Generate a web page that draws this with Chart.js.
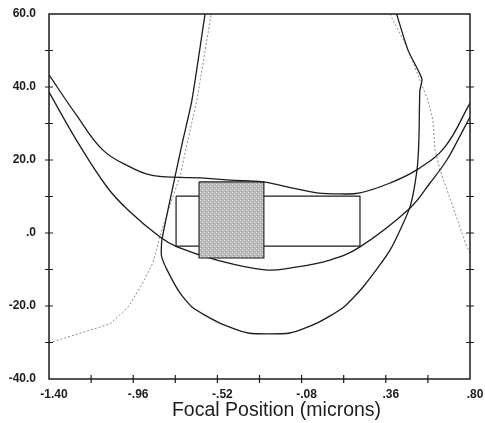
<!DOCTYPE html>
<html>
<head>
<meta charset="utf-8">
<script src="https://cdn.jsdelivr.net/npm/chart.js@4/dist/chart.umd.min.js"></script>
<style>
  html, body { margin: 0; padding: 0; background: #fff; }
  #wrap { width: 485px; height: 423px; }
</style>
</head>
<body>
<div id="wrap"><canvas id="c" width="485" height="423"></canvas></div>
<script>
// Axis ranges and the ticks that carry labels
const xRange = [-1.40, 0.80];
const yRange = [-40, 60];
const xLabelledTicks = [-1.40, -0.96, -0.52, -0.08, 0.36, 0.80];
const yLabelledTicks = [-40, -20, 0, 20, 40, 60];
const axisTitle = 'Focal Position (microns)';

// Curves as [focal position, value] pairs
const upperCurve = [
  [-1.40, 43.3], [-1.259, 32.5], [-1.118, 22.7], [-0.977, 18.1], [-0.872, 15.9],
  [-0.752, 15.3], [-0.611, 15.1], [-0.454, 14.5], [-0.282, 14.0], [-0.125, 12.3],
  [0.000, 11.0], [0.120, 10.7], [0.225, 11.0], [0.382, 13.7], [0.528, 17.5],
  [0.669, 23.6], [0.800, 35.6]
];
const lowerCurve = [
  [-1.40, 38.6], [-1.248, 24.7], [-1.097, 12.6], [-0.987, 6.3], [-0.820, -1.1],
  [-0.731, -3.8], [-0.522, -7.4], [-0.271, -10.1], [-0.141, -9.6], [0.068, -7.4],
  [0.225, -3.8], [0.486, 6.8], [0.591, 13.7], [0.679, 20.0], [0.737, 25.5],
  [0.800, 31.8]
];
const loopCurve = [
  [-0.579, 62], [-0.653, 36.4], [-0.700, 25.5], [-0.742, 15.3], [-0.810, -1.9],
  [-0.812, -6.3], [-0.783, -10.1], [-0.716, -16.4], [-0.648, -20.5], [-0.507, -24.7],
  [-0.360, -27.4], [-0.141, -27.4], [0.000, -24.7], [0.136, -20.5], [0.241, -14.8],
  [0.382, -4.7], [0.486, 7.1], [0.523, 17.3], [0.533, 25.5], [0.538, 39.0],
  [0.549, 42.2], [0.476, 50.1], [0.405, 62]
];
const traceLeft = [
  [-1.40, -30.1], [-1.081, -24.9], [-0.987, -20.3], [-0.925, -15.1], [-0.857, -8.2],
  [-0.810, 0.8], [-0.768, 7.7], [-0.716, 15.3], [-0.674, 25.5], [-0.627, 36.4],
  [-0.546, 62]
];
const traceRight = [
  [0.362, 62], [0.470, 51.0], [0.538, 41.9], [0.580, 36.4], [0.606, 31.0],
  [0.617, 22.7], [0.643, 17.3], [0.784, -3.8], [0.800, -5.5]
];

// Rectangular windows: [x from, x to] and [y from, y to]
const windowX = [-0.736, 0.225];
const windowY = [-3.6, 10.1];
const shadedX = [-0.616, -0.277];
const shadedY = [-6.85, 14.0];

const pts = arr => arr.map(([x, y]) => ({ x, y }));
const rect = (xs, ys) => [
  { x: xs[0], y: ys[1] }, { x: xs[1], y: ys[1] }, { x: xs[1], y: ys[0] },
  { x: xs[0], y: ys[0] }, { x: xs[0], y: ys[1] }
];

const canvas = document.getElementById('c');
const ctx = canvas.getContext('2d');

// Gray stipple fill
function stipple() {
  const p = document.createElement('canvas');
  p.width = 4; p.height = 4;
  const g = p.getContext('2d');
  g.fillStyle = '#b9b9b9';
  g.fillRect(0, 0, 4, 4);
  g.fillStyle = '#e4e4e4';
  g.fillRect(0, 0, 1, 1);
  g.fillRect(2, 2, 1, 1);
  g.fillStyle = '#9c9c9c';
  g.fillRect(1, 3, 1, 1);
  return ctx.createPattern(p, 'repeat');
}

const ink = '#1c1c1c';
const solid = (data, tension, order) => ({
  data: pts(data), borderColor: ink, borderWidth: 1.3, tension,
  pointRadius: 0, fill: false, clip: 0, order
});

const frame = {
  id: 'frame',
  afterDatasetsDraw(chart) {
    const { ctx, chartArea: a, scales: { x, y } } = chart;
    ctx.save();
    ctx.strokeStyle = ink;
    ctx.lineWidth = 1.5;
    ctx.strokeRect(a.left, a.top, a.right - a.left, a.bottom - a.top);
    ctx.lineWidth = 1.2;
    ctx.beginPath();
    y.ticks.forEach((t, i) => {
      if (i === 0 || i === y.ticks.length - 1) return;
      const py = y.getPixelForValue(t.value);
      ctx.moveTo(a.left - 4, py); ctx.lineTo(a.left + 4, py);
      ctx.moveTo(a.right - 4, py); ctx.lineTo(a.right + 4, py);
    });
    x.ticks.forEach((t, i) => {
      if (i === 0 || i === x.ticks.length - 1) return;
      const px = x.getPixelForValue(t.value);
      ctx.moveTo(px, a.bottom - 4); ctx.lineTo(px, a.bottom + 4);
    });
    ctx.stroke();
    ctx.font = '19.5px "Liberation Sans", Arial, sans-serif';
    ctx.fillStyle = ink;
    ctx.textAlign = 'center';
    ctx.textBaseline = 'middle';
    ctx.fillText(axisTitle, (a.left + a.right) / 2 + 17, chart.height - 12);
    ctx.restore();
  }
};

const isLabelled = (list, v) => list.some(t => Math.abs(t - v) < 1e-6);
const fmtX = v => v.toFixed(2).replace(/^(-?)0\./, '$1.');
const fmtY = v => v.toFixed(1).replace(/^(-?)0\./, '$1.');
const tickFont = { family: '"Liberation Sans", Arial, sans-serif', size: 12, weight: 'bold' };

new Chart(ctx, {
  type: 'line',
  data: {
    datasets: [
      { data: pts([[shadedX[0], shadedY[1]], [shadedX[1], shadedY[1]]]), borderWidth: 0,
        pointRadius: 0, fill: '+1', backgroundColor: stipple(), order: 1 },
      { data: pts([[shadedX[0], shadedY[0]], [shadedX[1], shadedY[0]]]), borderWidth: 0,
        pointRadius: 0, fill: false, order: 2 },
      { data: rect(shadedX, shadedY), borderColor: ink, borderWidth: 1.1, pointRadius: 0,
        fill: false, order: 0 },
      { data: rect(windowX, windowY), borderColor: ink, borderWidth: 1.2, pointRadius: 0,
        fill: false, order: 3 },
      solid(upperCurve, 0.4, 0),
      solid(lowerCurve, 0.4, 4),
      solid(loopCurve, 0.2, 4),
      { data: pts(traceLeft), borderColor: '#8a8a8a', borderWidth: 1, borderDash: [2, 2],
        pointRadius: 0, fill: false, clip: 0, order: 5 },
      { data: pts(traceRight), borderColor: '#8a8a8a', borderWidth: 1, borderDash: [2, 2],
        pointRadius: 0, fill: false, clip: 0, order: 5 }
    ]
  },
  options: {
    responsive: false,
    animation: false,
    devicePixelRatio: 1,
    layout: { padding: { top: 14, right: 15, left: 0, bottom: 0 } },
    plugins: { legend: { display: false }, tooltip: { enabled: false } },
    events: [],
    scales: {
      x: {
        type: 'linear', min: xRange[0], max: xRange[1],
        grid: { display: false, drawTicks: false },
        border: { display: false },
        afterFit: s => { s.height = 44; s.paddingLeft = 0; s.paddingRight = 0; },
        ticks: {
          stepSize: 0.22, autoSkip: false, maxRotation: 0, padding: 8, labelOffset: 5,
          color: ink, font: tickFont,
          callback: v => isLabelled(xLabelledTicks, v) ? fmtX(v) : ''
        }
      },
      y: {
        type: 'linear', min: yRange[0], max: yRange[1],
        grid: { display: false, drawTicks: false },
        border: { display: false },
        afterFit: s => { s.width = 49; s.paddingTop = 0; s.paddingBottom = 0; },
        ticks: {
          stepSize: 10, autoSkip: false, padding: 13, color: ink, font: tickFont,
          callback: v => isLabelled(yLabelledTicks, v) ? fmtY(v) : ''
        }
      }
    }
  },
  plugins: [frame]
});
</script>
</body>
</html>
